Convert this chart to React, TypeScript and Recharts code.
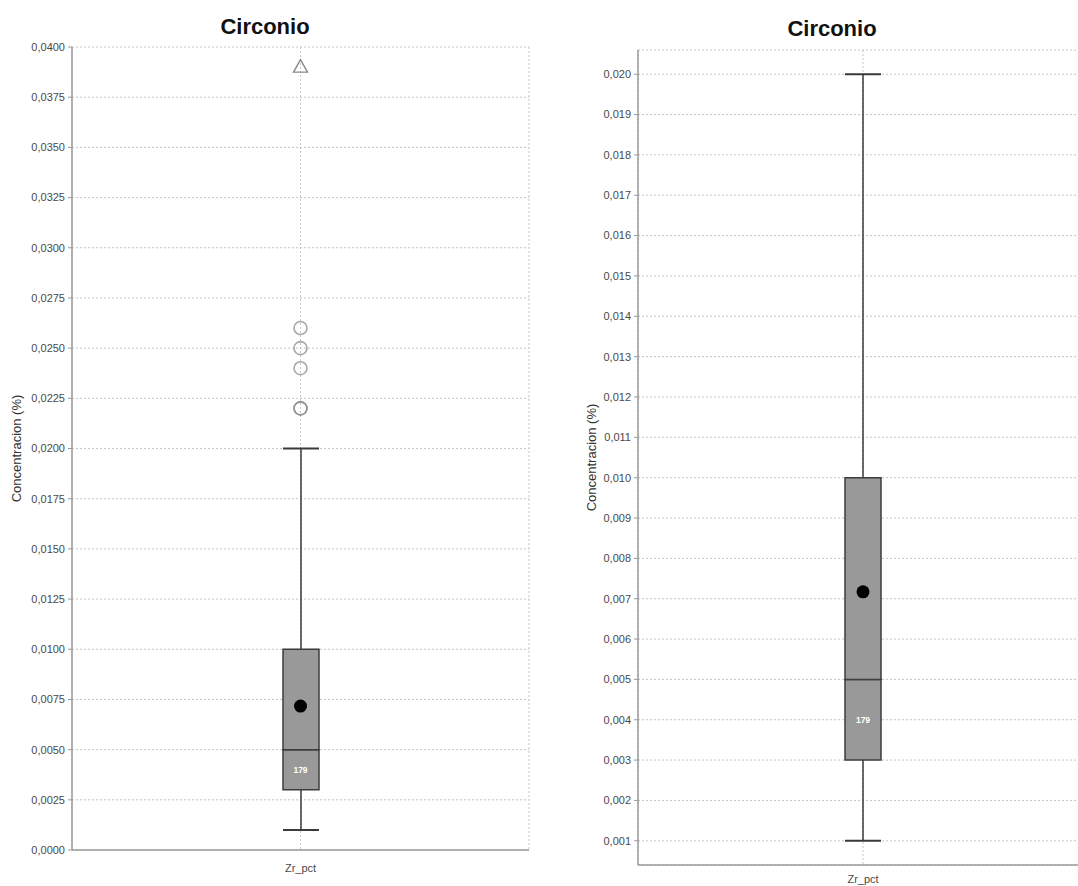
import React from 'react';
import { ComposedChart, Bar, Scatter, XAxis, YAxis, CartesianGrid } from 'recharts';

// Zirconium concentration summary for the single variable Zr_pct
const categories = ['Zr_pct'];
const chartTitle = 'Circonio';
const yAxisTitle = 'Concentracion (%)';

const whiskerRange: [number, number] = [0.001, 0.02];
const lowerBox: [number, number] = [0.003, 0.005];
const upperBox: [number, number] = [0.005, 0.01];
const meanValue = 0.00717;
const sampleCount = 179;
const countLabelAt = 0.004;
const mildOutliers = [0.026, 0.025, 0.024, 0.022, 0.022];
const extremeOutliers = [0.039];

const fullTicks = [
  0, 0.0025, 0.005, 0.0075, 0.01, 0.0125, 0.015, 0.0175, 0.02,
  0.0225, 0.025, 0.0275, 0.03, 0.0325, 0.035, 0.0375, 0.04,
];
const zoomTicks = [
  0.001, 0.002, 0.003, 0.004, 0.005, 0.006, 0.007, 0.008, 0.009, 0.01,
  0.011, 0.012, 0.013, 0.014, 0.015, 0.016, 0.017, 0.018, 0.019, 0.02,
];
const fullDomain: [number, number] = [0, 0.04];
const zoomDomain: [number, number] = [0.0004, 0.0206];

const FONT = '"Liberation Sans", Arial, Helvetica, sans-serif';
const AXIS_GREY = '#9a9a9a';
const TEXT_GREY = '#4a4a4a';

const boxData = categories.map((name) => ({
  name,
  whisker: whiskerRange,
  lower: lowerBox,
  upper: upperBox,
}));
const meanData = categories.map((name) => ({ name, v: meanValue }));
const countData = categories.map((name) => ({ name, v: countLabelAt, n: sampleCount }));
const mildData = mildOutliers.map((v) => ({ name: categories[0], v }));
const extremeData = extremeOutliers.map((v) => ({ name: categories[0], v }));

const commaFormat = (digits: number) => (v: number) => v.toFixed(digits).replace('.', ',');

const WhiskerShape = (props: any) => {
  const { x, y, width, height } = props;
  const top = Math.min(y, y + height);
  const bottom = Math.max(y, y + height);
  const cx = x + width / 2;
  return (
    <g>
      <line x1={cx} x2={cx} y1={top} y2={bottom} stroke="#3a3a3a" strokeWidth={1.5} />
      <line x1={x} x2={x + width} y1={top} y2={top} stroke="#3a3a3a" strokeWidth={2} />
      <line x1={x} x2={x + width} y1={bottom} y2={bottom} stroke="#3a3a3a" strokeWidth={2} />
    </g>
  );
};

const MeanShape = (props: any) => <circle cx={props.cx} cy={props.cy} r={6.5} fill="#000" />;

const CircleOutlier = (props: any) => (
  <circle cx={props.cx} cy={props.cy} r={6.5} fill="none" stroke="#8a8a8a" strokeOpacity={0.75} strokeWidth={1.6} />
);

const TriangleOutlier = (props: any) => {
  const { cx, cy } = props;
  return (
    <polygon
      points={`${cx},${cy - 7.5} ${cx - 7},${cy + 5} ${cx + 7},${cy + 5}`}
      fill="none"
      stroke="#8a8a8a"
      strokeWidth={1.4}
    />
  );
};

const CountShape = (props: any) => (
  <text
    x={props.cx}
    y={props.cy + 3}
    textAnchor="middle"
    fill="#ffffff"
    fontSize={8.5}
    fontWeight="bold"
    fontFamily={FONT}
  >
    {props.payload.n}
  </text>
);

const yLabel = (dx: number) => (p: any) => {
  const vb = p.viewBox;
  const x = vb.x + dx;
  const y = vb.y + vb.height / 2;
  return (
    <text
      x={x}
      y={y}
      transform={`rotate(-90, ${x}, ${y})`}
      textAnchor="middle"
      dominantBaseline="central"
      fontSize={13}
      fill="#333"
      fontFamily={FONT}
    >
      {yAxisTitle}
    </text>
  );
};

type PanelProps = {
  width: number;
  margin: { top: number; right: number; bottom: number; left: number };
  yWidth: number;
  xHeight: number;
  xTickMargin: number;
  domain: [number, number];
  ticks: number[];
  digits: number;
  labelDx: number;
  showOutliers: boolean;
  showRightBorder: boolean;
};

const BoxPanel = ({
  width, margin, yWidth, xHeight, xTickMargin, domain, ticks, digits, labelDx, showOutliers, showRightBorder,
}: PanelProps) => (
  <ComposedChart width={width} height={886} data={boxData} margin={margin}>
    <CartesianGrid stroke="#c4c4c4" strokeDasharray="2 2" />
    <XAxis
      dataKey="name"
      allowDuplicatedCategory={false}
      height={xHeight}
      tickLine={false}
      axisLine={{ stroke: AXIS_GREY, strokeWidth: 1.5 }}
      tick={{ fontSize: 11, fill: TEXT_GREY, fontFamily: FONT }}
      tickMargin={xTickMargin}
    />
    <XAxis xAxisId="top" dataKey="name" allowDuplicatedCategory={false} orientation="top" height={0}
      tick={false} tickLine={false} axisLine={{ stroke: AXIS_GREY, strokeWidth: 1.5 }} />
    <XAxis xAxisId="w" dataKey="name" allowDuplicatedCategory={false} hide />
    <XAxis xAxisId="lo" dataKey="name" allowDuplicatedCategory={false} hide />
    <XAxis xAxisId="hi" dataKey="name" allowDuplicatedCategory={false} hide />
    <YAxis
      type="number"
      domain={domain}
      ticks={ticks}
      interval={0}
      allowDataOverflow
      width={yWidth}
      tickFormatter={commaFormat(digits)}
      tick={{ fontSize: 11, fill: TEXT_GREY, fontFamily: FONT }}
      tickLine={{ stroke: AXIS_GREY }}
      tickSize={4}
      tickMargin={3}
      axisLine={{ stroke: AXIS_GREY, strokeWidth: 1.5 }}
      label={{ content: yLabel(labelDx) }}
    />
    {showRightBorder && (
      <YAxis yAxisId="r" orientation="right" domain={domain} width={0} tick={false} tickLine={false}
        axisLine={{ stroke: AXIS_GREY, strokeWidth: 1.5 }} />
    )}
    <Bar xAxisId="w" dataKey="whisker" barSize={36} shape={WhiskerShape} isAnimationActive={false} />
    <Bar xAxisId="lo" dataKey="lower" barSize={36} fill="#999999" stroke="#3c3c3c" strokeWidth={1.5} isAnimationActive={false} />
    <Bar xAxisId="hi" dataKey="upper" barSize={36} fill="#999999" stroke="#3c3c3c" strokeWidth={1.5} isAnimationActive={false} />
    <Scatter data={meanData} dataKey="v" shape={MeanShape} isAnimationActive={false} />
    <Scatter data={countData} dataKey="v" shape={CountShape} isAnimationActive={false} />
    {showOutliers && (
      <Scatter data={mildData} dataKey="v" shape={CircleOutlier} isAnimationActive={false} />
    )}
    {showOutliers && (
      <Scatter data={extremeData} dataKey="v" shape={TriangleOutlier} isAnimationActive={false} />
    )}
  </ComposedChart>
);

const titleStyle = (center: number, top: number): React.CSSProperties => ({
  position: 'absolute',
  left: center - 100,
  top,
  width: 200,
  textAlign: 'center',
  fontFamily: FONT,
  fontWeight: 'bold',
  fontSize: 22,
  lineHeight: '26px',
  color: '#111',
});

export default function App() {
  return (
    <div
      style={{
        position: 'absolute',
        left: 0,
        top: 0,
        width: 1078,
        height: 886,
        overflow: 'hidden',
        background: '#fff',
      }}
    >
      <div style={{ position: 'absolute', left: 0, top: 0 }}>
        <BoxPanel
          width={540}
          margin={{ top: 47, right: 11, bottom: 6, left: 0 }}
          yWidth={72}
          xHeight={30}
          xTickMargin={8}
          domain={fullDomain}
          ticks={fullTicks}
          digits={4}
          labelDx={16}
          showOutliers
          showRightBorder
        />
      </div>
      <div style={{ position: 'absolute', left: 540, top: 0 }}>
        <BoxPanel
          width={560}
          margin={{ top: 50, right: 12, bottom: 0, left: 0 }}
          yWidth={98}
          xHeight={21}
          xTickMargin={4}
          domain={zoomDomain}
          ticks={zoomTicks}
          digits={3}
          labelDx={51}
          showOutliers={false}
          showRightBorder={false}
        />
      </div>
      <div style={titleStyle(265, 14)}>{chartTitle}</div>
      <div style={titleStyle(832, 16)}>{chartTitle}</div>
    </div>
  );
}
